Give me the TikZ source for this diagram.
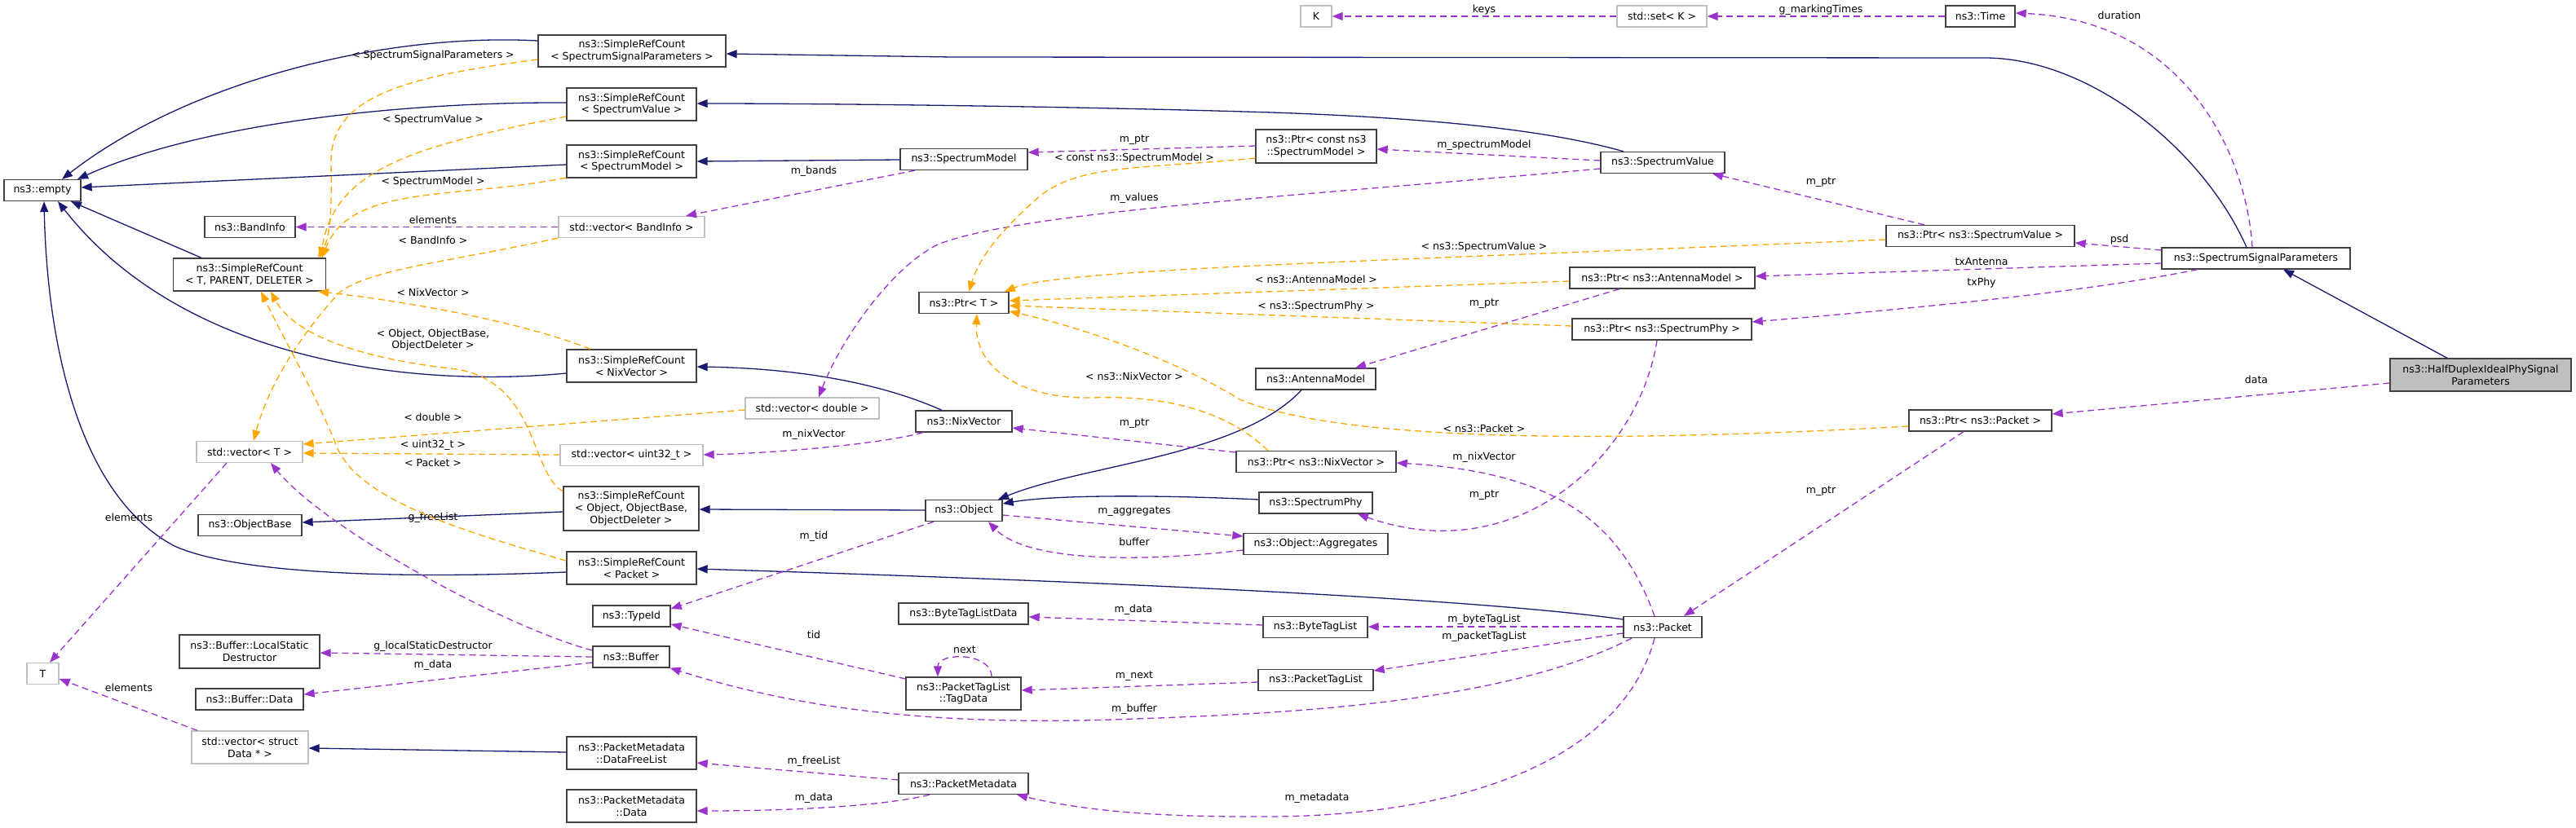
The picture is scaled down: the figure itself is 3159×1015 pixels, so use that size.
\documentclass[tikz,border=0pt]{standalone}
\usepackage{fontspec}
\setmainfont{DejaVu Sans}
\usepackage{xcolor}
\usetikzlibrary{arrows.meta}
\definecolor{inhblue}{HTML}{191970}
\definecolor{usepurple}{HTML}{9A32CD}
\definecolor{tplorange}{HTML}{FFA500}
\definecolor{extgray}{HTML}{BFBFBF}
\definecolor{boxgray}{HTML}{404040}
\tikzset{
  clsbox/.style={rectangle, draw=boxgray, fill=white, line width=1.3pt,
                 minimum height=26pt, inner sep=2pt, align=center},
  extbox/.style={clsbox, draw=extgray},
  inherit/.style={draw=inhblue, line width=1.3pt, -{Triangle[length=13pt,width=10pt]}},
  usage/.style={draw=usepurple, line width=1.3pt, dash pattern=on 8pt off 5pt,
                -{Triangle[length=13pt,width=10pt]}},
  tmpl/.style={draw=tplorange, line width=1.3pt, dash pattern=on 8pt off 5pt,
               -{Triangle[length=13pt,width=10pt]}},
  elabel/.style={inner sep=0pt, text=black, align=center},
}
\begin{document}
\begin{tikzpicture}[x=1pt, y=-1pt,
  every node/.style={font=\fontsize{12.5}{14.7}\selectfont}]
  \useasboundingbox (0,0) rectangle (3159,1015);

  \node[clsbox, minimum width=94pt] (empty) at (52,233.5) {ns3::empty};
  \node[clsbox, minimum width=230pt, minimum height=39pt] (srcSSP) at (775,62.5) {ns3::SimpleRefCount\\< SpectrumSignalParameters >};
  \node[clsbox, minimum width=159pt, minimum height=40pt] (srcSV) at (774.5,128) {ns3::SimpleRefCount\\< SpectrumValue >};
  \node[clsbox, minimum width=159pt, minimum height=40pt] (srcSM) at (774.5,198) {ns3::SimpleRefCount\\< SpectrumModel >};
  \node[clsbox, minimum width=111pt] (bandInfo) at (306.5,278.5) {ns3::BandInfo};
  \node[extbox, minimum width=179pt] (vecBand) at (774.5,278.5) {std::vector< BandInfo >};
  \node[clsbox, minimum width=187pt, minimum height=40pt] (srcT) at (306,337) {ns3::SimpleRefCount\\< T, PARENT, DELETER >};
  \node[clsbox, minimum width=159pt, minimum height=40pt] (srcNV) at (774.5,449) {ns3::SimpleRefCount\\< NixVector >};
  \node[extbox, minimum width=130pt] (vecT) at (306,554.5) {std::vector< T >};
  \node[extbox, minimum width=175pt] (vecU32) at (774.5,558.5) {std::vector< uint32\_t >};
  \node[clsbox, minimum width=166pt, minimum height=54pt] (srcOOO) at (774,624) {ns3::SimpleRefCount\\< Object, ObjectBase,\\ObjectDeleter >};
  \node[clsbox, minimum width=127pt] (objBase) at (306.5,644.5) {ns3::ObjectBase};
  \node[clsbox, minimum width=159pt, minimum height=40pt] (srcPkt) at (774.5,697) {ns3::SimpleRefCount\\< Packet >};
  \node[clsbox, minimum width=95pt] (typeId) at (774.5,756) {ns3::TypeId};
  \node[clsbox, minimum width=94pt] (buffer) at (774,806) {ns3::Buffer};
  \node[clsbox, minimum width=172pt, minimum height=41pt] (lsd) at (306,799.5) {ns3::Buffer::LocalStatic\\Destructor};
  \node[clsbox, minimum width=132pt] (bufData) at (306,858) {ns3::Buffer::Data};
  \node[extbox, minimum width=39pt] (tT) at (52.5,826.5) {T};
  \node[extbox, minimum width=143pt, minimum height=40pt] (vecData) at (306.5,917) {std::vector< struct\\Data * >};
  \node[clsbox, minimum width=159pt, minimum height=40pt] (dfl) at (774.5,924) {ns3::PacketMetadata\\::DataFreeList};
  \node[clsbox, minimum width=159pt, minimum height=40pt] (pmData) at (774.5,989) {ns3::PacketMetadata\\::Data};
  \node[clsbox, minimum width=156pt] (specModel) at (1182,195.5) {ns3::SpectrumModel};
  \node[clsbox, minimum width=110pt] (ptrT) at (1182,371.5) {ns3::Ptr< T >};
  \node[extbox, minimum width=164pt] (vecDbl) at (996,501) {std::vector< double >};
  \node[clsbox, minimum width=118pt] (nixVec) at (1182,517) {ns3::NixVector};
  \node[clsbox, minimum width=94pt] (object) at (1182,626.5) {ns3::Object};
  \node[clsbox, minimum width=159pt] (btld) at (1181.5,753) {ns3::ByteTagListData};
  \node[clsbox, minimum width=141pt, minimum height=40pt] (tagData) at (1181.5,851) {ns3::PacketTagList\\::TagData};
  \node[clsbox, minimum width=159pt] (pktMeta) at (1181.5,961.5) {ns3::PacketMetadata};
  \node[extbox, minimum width=38pt] (K) at (1614,20) {K};
  \node[clsbox, minimum width=148pt, minimum height=41pt] (pcsm) at (1614,179.5) {ns3::Ptr< const ns3\\::SpectrumModel >};
  \node[clsbox, minimum width=147pt] (antModel) at (1613.5,465) {ns3::AntennaModel};
  \node[clsbox, minimum width=196pt] (ptrNV) at (1614,566.5) {ns3::Ptr< ns3::NixVector >};
  \node[clsbox, minimum width=139pt] (specPhy) at (1613.5,617) {ns3::SpectrumPhy};
  \node[clsbox, minimum width=177pt] (aggr) at (1613.5,667.5) {ns3::Object::Aggregates};
  \node[clsbox, minimum width=128pt] (btl) at (1613,769.5) {ns3::ByteTagList};
  \node[clsbox, minimum width=141pt] (ptl) at (1613.5,834.5) {ns3::PacketTagList};
  \node[extbox, minimum width=110pt] (setK) at (2038,20) {std::set< K >};
  \node[clsbox, minimum width=152pt] (specVal) at (2039,199.5) {ns3::SpectrumValue};
  \node[clsbox, minimum width=227pt] (ptrAM) at (2038.5,341) {ns3::Ptr< ns3::AntennaModel >};
  \node[clsbox, minimum width=220pt] (ptrSP) at (2038,404) {ns3::Ptr< ns3::SpectrumPhy >};
  \node[clsbox, minimum width=96pt] (packet) at (2039,769.5) {ns3::Packet};
  \node[clsbox, minimum width=85pt] (timeN) at (2428.5,20) {ns3::Time};
  \node[clsbox, minimum width=231pt] (ptrSV) at (2428.5,289.5) {ns3::Ptr< ns3::SpectrumValue >};
  \node[clsbox, minimum width=175pt] (ptrPkt) at (2428.5,516) {ns3::Ptr< ns3::Packet >};
  \node[clsbox, minimum width=231pt] (ssp) at (2766.5,317) {ns3::SpectrumSignalParameters};
  \node[clsbox, fill=extgray, minimum width=222pt, minimum height=40pt] (half) at (3042,460) {ns3::HalfDuplexIdealPhySignal\\Parameters};

  \draw[inherit] (srcSSP.west |- 0,50) .. controls (470,40) and (230,100) .. (empty.north -| 76,0);
  \draw[inherit] (srcSV.west |- 0,126) .. controls (500,125) and (250,150) .. (empty.north -| 95,0);
  \draw[inherit] (srcSM.west |- 0,202) -- (empty.east |- 0,230);
  \draw[inherit] (srcT.north -| 247,0) -- (empty.south -| 87,0);
  \draw[inherit] (srcNV.west |- 0,458) .. controls (520,475) and (230,450) .. (empty.south -| 71,0);
  \draw[inherit] (srcPkt.west |- 0,702) .. controls (450,712) and (280,700) .. (214,670) .. controls (100,610) and (58,430) .. (empty.south -| 54,0);
  \draw[inherit] (specModel.west |- 0,196) -- (srcSM.east |- 0,198);
  \draw[inherit] (ssp.north -| 2755,0) .. controls (2700,180) and (2560,71) .. (2434,71) -- (1168,70) -- (srcSSP.east |- 0,66);
  \draw[inherit] (specVal.north -| 1991,0) .. controls (1900,160) and (1760,145) .. (1560,138) .. controls (1300,130) and (1000,127) .. (srcSV.east |- 0,127);
  \draw[inherit] (nixVec.north -| 1155,0) .. controls (1080,470) and (980,452) .. (srcNV.east |- 0,450);
  \draw[inherit] (object.west |- 0,626) -- (srcOOO.east |- 0,625);
  \draw[inherit] (srcOOO.west |- 0,628) -- (objBase.east |- 0,641);
  \draw[inherit] (antModel.south -| 1596,0) .. controls (1520,560) and (1330,570) .. (object.north -| 1224,0);
  \draw[inherit] (specPhy.west |- 0,613) .. controls (1440,608) and (1300,606) .. (object.east |- 0,618);
  \draw[inherit] (packet.west |- 0,760) .. controls (1850,740) and (1500,718) .. (srcPkt.east |- 0,698);
  \draw[inherit] (dfl.west |- 0,923) -- (vecData.east |- 0,918);
  \draw[inherit] (half.north -| 3001,0) -- (ssp.south -| 2800,0);

  \draw[usage] (setK) -- (K) node[elabel] at (1820,12) {keys};
  \draw[usage] (timeN) -- (setK) node[elabel] at (2233,12) {g\_markingTimes};
  \draw[usage] (ssp.north -| 2762,0) .. controls (2755,190) and (2680,25) .. (timeN.east |- 0,16) node[elabel] at (2599,19) {duration};
  \draw[usage] (ssp.west |- 0,307) -- (ptrSV.east |- 0,298) node[elabel] at (2599,294) {psd};
  \draw[usage] (ssp.west |- 0,323) -- (ptrAM.east |- 0,339) node[elabel] at (2430,321) {txAntenna};
  \draw[usage] (ssp.south -| 2695,0) .. controls (2600,350) and (2450,370) .. (ptrSP.east |- 0,395) node[elabel] at (2430,347) {txPhy};
  \draw[usage] (half.west |- 0,470) -- (ptrPkt.east |- 0,508) node[elabel] at (2767,466) {data};
  \draw[usage] (ptrSV.north -| 2360,0) -- (specVal.south -| 2100,0) node[elabel] at (2233,224) {m\_ptr};
  \draw[usage] (specVal.west |- 0,197) -- (pcsm.east |- 0,183) node[elabel] at (1820,178) {m\_spectrumModel};
  \draw[usage] (specVal.west |- 0,207) .. controls (1600,240) and (1250,260) .. (1150,300) .. controls (1090,330) and (1030,420) .. (vecDbl.north -| 1004,0) node[elabel] at (1391,243) {m\_values};
  \draw[usage] (pcsm.west |- 0,179) -- (specModel.east |- 0,187) node[elabel] at (1391,172) {m\_ptr};
  \draw[usage] (specModel.south -| 1122,0) -- (vecBand.north -| 841,0) node[elabel] at (998,210) {m\_bands};
  \draw[usage] (vecBand) -- (bandInfo) node[elabel] at (531,270) {elements};
  \draw[usage] (ptrAM.south -| 1986,0) -- (antModel.north -| 1662,0) node[elabel] at (1820,373) {m\_ptr};
  \draw[usage] (ptrSP.south -| 2032,0) .. controls (2010,560) and (1860,700) .. (specPhy.south -| 1665,0) node[elabel] at (1820,608) {m\_ptr};
  \draw[usage] (packet.north -| 2029,0) .. controls (1990,650) and (1920,580) .. (ptrNV.east |- 0,568) node[elabel] at (1820,561) {m\_nixVector};
  \draw[usage] (ptrPkt.south -| 2408,0) -- (packet.north -| 2065,0) node[elabel] at (2233,603) {m\_ptr};
  \draw[usage] (ptrNV.west |- 0,555) -- (nixVec.east |- 0,525) node[elabel] at (1391,520) {m\_ptr};
  \draw[usage] (nixVec.south -| 1132,0) .. controls (1080,545) and (950,556) .. (vecU32.east |- 0,558) node[elabel] at (998,533) {m\_nixVector};
  \draw[usage] (object.east |- 0,632) -- (aggr.west |- 0,658) node[elabel] at (1391,628) {m\_aggregates};
  \draw[usage] (aggr.west |- 0,675) .. controls (1400,690) and (1260,690) .. (object.south -| 1212,0) node[elabel] at (1391,665) {buffer};
  \draw[usage] (object.south -| 1145,0) -- (typeId.east |- 0,747) node[elabel] at (998,658) {m\_tid};
  \draw[usage] (tagData.west |- 0,833) -- (typeId.east |- 0,766) node[elabel] at (998,779) {tid};
  \draw[usage] (tagData.north -| 1216,0) .. controls (1216,800) and (1150,800) .. (tagData.north -| 1150,0) node[elabel] at (1183,797) {next};
  \draw[usage] (ptl.west |- 0,837) -- (tagData.east |- 0,847) node[elabel] at (1391,830) {m\_next};
  \draw[usage] (btl.west |- 0,767) -- (btld.east |- 0,757) node[elabel] at (1390,748) {m\_data};
  \draw[usage] (packet.west |- 0,769) -- (btl.east |- 0,769) node[elabel] at (1820,760) {m\_byteTagList};
  \draw[usage] (packet.west |- 0,777) -- (ptl.east |- 0,823) node[elabel] at (1820,781) {m\_packetTagList};
  \draw[usage] (packet.south -| 2001,0) .. controls (1850,860) and (1600,875) .. (1392,882) .. controls (1150,892) and (980,870) .. (buffer.south east) node[elabel] at (1391,870) {m\_buffer};
  \draw[usage] (packet.south -| 2029,0) .. controls (1990,930) and (1800,1000) .. (1560,1002) .. controls (1420,1003) and (1330,995) .. (pktMeta.south -| 1247,0) node[elabel] at (1615,979) {m\_metadata};
  \draw[usage] (pktMeta.west |- 0,957) -- (dfl.east |- 0,936) node[elabel] at (998,934) {m\_freeList};
  \draw[usage] (pktMeta.south -| 1140,0) .. controls (1080,990) and (960,995) .. (pmData.east |- 0,995) node[elabel] at (998,979) {m\_data};
  \draw[usage] (buffer.west |- 0,806) -- (lsd.east |- 0,801) node[elabel] at (531,793) {g\_localStaticDestructor};
  \draw[usage] (buffer.west |- 0,813) -- (bufData.east |- 0,852) node[elabel] at (531,816) {m\_data};
  \draw[usage] (buffer.west |- 0,798) .. controls (620,770) and (400,650) .. (vecT.south -| 332,0) node[elabel] at (531,635) {g\_freeList};
  \draw[usage] (vecT.south -| 278,0) -- (tT.north -| 61,0) node[elabel] at (158,635) {elements};
  \draw[usage] (vecData.north -| 242,0) -- (tT.east |- 0,833) node[elabel] at (158,844) {elements};

  \draw[tmpl] (srcSSP.west |- 0,73) .. controls (490,95) and (405,120) .. (406,200) .. controls (407,260) and (405,290) .. (srcT.north -| 390,0) node[elabel] at (531,68) {< SpectrumSignalParameters >};
  \draw[tmpl] (srcSV.west |- 0,143) .. controls (500,180) and (410,210) .. (srcT.north -| 393,0) node[elabel] at (531,147) {< SpectrumValue >};
  \draw[tmpl] (srcSM.west |- 0,218) .. controls (560,245) and (430,225) .. (srcT.north -| 395,0) node[elabel] at (531,223) {< SpectrumModel >};
  \draw[tmpl] (srcNV.north -| 724,0) .. controls (640,395) and (500,370) .. (srcT.south -| 390,0) node[elabel] at (531,359) {< NixVector >};
  \draw[tmpl] (srcOOO.west |- 0,603) .. controls (650,580) and (660,470) .. (560,453) .. controls (440,440) and (360,410) .. (srcT.south -| 332,0) node[elabel] at (531,417) {< Object, ObjectBase,\\ObjectDeleter >};
  \draw[tmpl] (srcPkt.west |- 0,688) .. controls (560,650) and (430,610) .. (410,540) .. controls (380,470) and (350,420) .. (srcT.south -| 320,0) node[elabel] at (531,568) {< Packet >};
  \draw[tmpl] (vecBand.west |- 0,292) .. controls (560,320) and (450,330) .. (415,360) .. controls (370,410) and (330,470) .. (vecT.north -| 311,0) node[elabel] at (531,295) {< BandInfo >};
  \draw[tmpl] (vecDbl.west |- 0,503) -- (vecT.east |- 0,545) node[elabel] at (531,512) {< double >};
  \draw[tmpl] (vecU32.west |- 0,558) -- (vecT.east |- 0,556) node[elabel] at (531,546) {< uint32\_t >};
  \draw[tmpl] (pcsm.west |- 0,194) .. controls (1400,208) and (1320,200) .. (1270,245) .. controls (1220,290) and (1200,320) .. (ptrT.north -| 1188,0) node[elabel] at (1391,194) {< const ns3::SpectrumModel >};
  \draw[tmpl] (ptrSV.west |- 0,294) .. controls (1700,320) and (1300,330) .. (ptrT.north -| 1232,0) node[elabel] at (1820,303) {< ns3::SpectrumValue >};
  \draw[tmpl] (ptrAM.west |- 0,345) -- (ptrT.east |- 0,369) node[elabel] at (1614,343) {< ns3::AntennaModel >};
  \draw[tmpl] (ptrSP.west |- 0,400) -- (ptrT.east |- 0,375) node[elabel] at (1614,376) {< ns3::SpectrumPhy >};
  \draw[tmpl] (ptrPkt.west |- 0,523) .. controls (1950,545) and (1640,540) .. (1520,490) .. controls (1440,440) and (1320,400) .. (ptrT.east |- 0,382) node[elabel] at (1820,526) {< ns3::Packet >};
  \draw[tmpl] (ptrNV.north -| 1555,0) .. controls (1500,500) and (1420,485) .. (1340,488) .. controls (1250,490) and (1195,450) .. (ptrT.south -| 1198,0) node[elabel] at (1391,462) {< ns3::NixVector >};
\end{tikzpicture}
\end{document}
